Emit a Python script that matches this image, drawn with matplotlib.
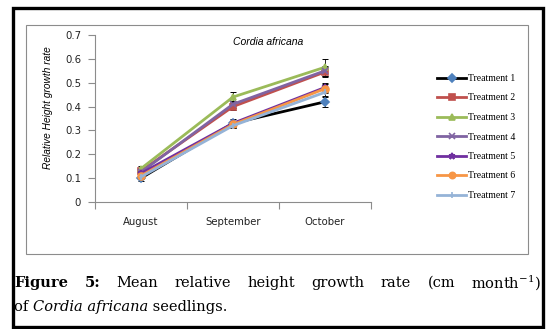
import matplotlib
matplotlib.use("Agg")
import matplotlib.pyplot as plt
from matplotlib.patches import Rectangle

W, H = 555, 329

months = ["August", "September", "October"]
labels = ["Treatment 1", "Treatment 2", "Treatment 3", "Treatment 4",
          "Treatment 5", "Treatment 6", "Treatment 7"]
t1 = [0.10, 0.33, 0.42]
t2 = [0.13, 0.40, 0.545]
t3 = [0.14, 0.44, 0.565]
t4 = [0.125, 0.41, 0.55]
t5 = [0.12, 0.33, 0.48]
t6 = [0.11, 0.325, 0.475]
t7 = [0.105, 0.32, 0.46]
e1 = [0.01, 0.01, 0.02]
e2 = [0.01, 0.015, 0.02]
e3 = [0.01, 0.02, 0.035]
e4 = [0.01, 0.015, 0.02]
e5 = [0.01, 0.018, 0.02]
e6 = [0.01, 0.01, 0.02]
e7 = [0.01, 0.01, 0.015]
yticks = [0, 0.1, 0.2, 0.3, 0.4, 0.5, 0.6, 0.7]

series = [t1, t2, t3, t4, t5, t6, t7]
errors = [e1, e2, e3, e4, e5, e6, e7]
styles = [
    dict(color="#000000", marker="D", mfc="#4F81BD", mec="#4F81BD", ms=4.5),
    dict(color="#C0504D", marker="s", mfc="#C0504D", mec="#C0504D", ms=4.5),
    dict(color="#9BBB59", marker="^", mfc="#9BBB59", mec="#9BBB59", ms=5),
    dict(color="#8064A2", marker="x", mfc="#8064A2", mec="#8064A2", ms=4.5),
    dict(color="#7030A0", marker="*", mfc="#7030A0", mec="#7030A0", ms=5),
    dict(color="#F79646", marker="o", mfc="#F79646", mec="#F79646", ms=5),
    dict(color="#95B3D7", marker="|", mfc="#95B3D7", mec="#95B3D7", ms=5),
]


def fx(px):
    return px / W


def fy(py):
    return 1 - py / H


plt.rcParams["mathtext.fontset"] = "dejavuserif"

fig = plt.figure(figsize=(W / 100, H / 100), dpi=100)
fig.patch.set_facecolor("white")

# outer black border and inner grey chart frame
fig.patches.append(Rectangle((fx(13), fy(327)), fx(543) - fx(13), fy(8) - fy(327),
                             transform=fig.transFigure, fill=False, ec="black", lw=2.4))
fig.patches.append(Rectangle((fx(26), fy(254)), fx(528) - fx(26), fy(25) - fy(254),
                             transform=fig.transFigure, fill=False, ec="#8c8c8c", lw=0.8))

ax = fig.add_axes([fx(95), fy(202), fx(371) - fx(95), fy(35) - fy(202)])
x = list(range(len(months)))
handles = []
for vals, err, st, lab in zip(series, errors, styles, labels):
    ax.errorbar(x, vals, yerr=err, fmt="none", ecolor="black", elinewidth=0.6,
                capsize=2.5, capthick=0.7, zorder=2)
    h, = ax.plot(x, vals, color=st["color"], lw=2.0, marker=st["marker"],
                 ms=st["ms"], mfc=st["mfc"], mec=st["mec"], mew=1.2, label=lab, zorder=3)
    handles.append(h)

ax.set_xlim(-0.5, 2.5)
ax.set_ylim(0, 0.7)
ax.set_yticks(yticks)
ax.set_yticklabels([f"{v:g}" for v in yticks])
ax.set_xticks(x)
ax.set_xticklabels(months)
ax.set_xticks([-0.5, 0.5, 1.5, 2.5], minor=True)
ax.tick_params(axis="x", which="major", length=0, pad=11)
ax.tick_params(axis="x", which="minor", length=5, width=0.8, color="#8c8c8c", direction="out")
ax.tick_params(axis="y", length=5, width=0.8, color="#8c8c8c", pad=5)
for lab in ax.get_xticklabels() + ax.get_yticklabels():
    lab.set_fontfamily("DejaVu Sans")
    lab.set_fontsize(7.3)
    lab.set_color("#222222")
for s in ["top", "right"]:
    ax.spines[s].set_visible(False)
for s in ["left", "bottom"]:
    ax.spines[s].set_color("#8c8c8c")
    ax.spines[s].set_linewidth(0.8)

fig.text(fx(268), fy(42), "Cordia africana", family="Liberation Sans", style="italic",
         fontsize=7.5, ha="center", va="center")
fig.text(fx(48), fy(108), "Relative Height growth rate", family="Liberation Sans",
         style="italic", fontsize=7.3, rotation=90, ha="center", va="center")

fig.legend(handles=handles, loc="upper left", bbox_to_anchor=(fx(437), fy(74)),
           frameon=False, prop={"family": "Liberation Serif", "size": 7},
           handlelength=3.0, handletextpad=0.2, labelspacing=1.08,
           borderpad=0, borderaxespad=0, markerscale=0.9)

# caption, first line justified
cap_size = 10.5
line1 = [("Figure", "bold"), ("5:", "bold"), ("Mean", "normal"), ("relative", "normal"),
         ("height", "normal"), ("growth", "normal"), ("rate", "normal"), ("(cm", "normal"),
         ("month$^{-1}$)", "normal")]
texts = [fig.text(0, fy(283), w, family="DejaVu Serif", fontweight=wt,
                  fontsize=cap_size, ha="left", va="center") for w, wt in line1]
fig.canvas.draw()
r = fig.canvas.get_renderer()
widths = [t.get_window_extent(r).width for t in texts]
x0, x1 = 14, 541
gap = (x1 - x0 - sum(widths)) / (len(texts) - 1)
cur = x0
for t, w in zip(texts, widths):
    t.set_x(fx(cur))
    cur += w + gap

line2 = [("of ", "normal"), ("Cordia africana", "italic"), (" seedlings.", "normal")]
cur = 14
for w, st in line2:
    t = fig.text(fx(cur), fy(307), w, family="DejaVu Serif", style=st,
                 fontsize=cap_size, ha="left", va="center")
    cur += t.get_window_extent(r).width

fig.savefig("out.png", dpi=100)
